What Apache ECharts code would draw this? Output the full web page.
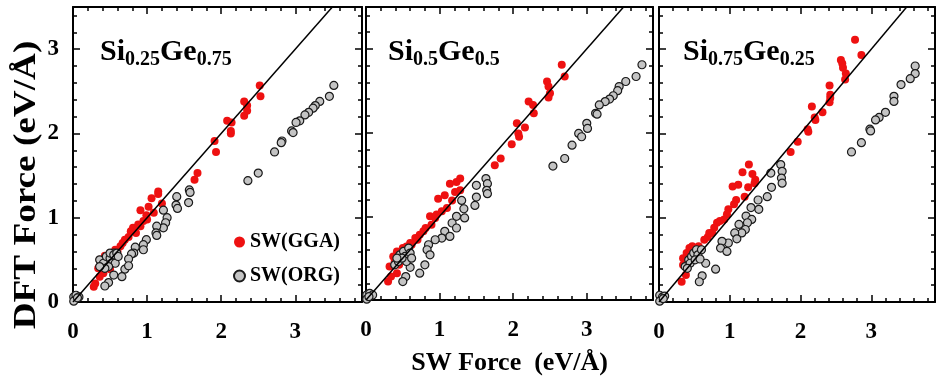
<!DOCTYPE html>
<html>
<head>
<meta charset="UTF-8">
<title>SW vs DFT force</title>
<script src="https://cdn.jsdelivr.net/npm/echarts@6/dist/echarts.min.js"></script>
</head>
<body style="margin:0;background:#fff">
	<div id="main" style="width: 938px; height: 381px;"></div>

	<script type="text/javascript">
		var font = 'Liberation Serif';

		// panel subscripts: Si_a Ge_b
		var panelTitles = [ [ '0.25', '0.75' ], [ '0.5', '0.5' ], [ '0.75', '0.25' ] ];
		var xTickLabels = [ 0, 1, 2, 3 ];
		var yTickLabels = [ 0, 1, 2, 3 ];

		// [SW force, DFT force] for Si0.25Ge0.75
		var gga1 = [ [2.52,2.57],[2.53,2.44],[2.31,2.38],[2.35,2.33],[2.35,2.27],[2.31,2.21],[2.08,2.15],[2.14,2.13],
			[2.13,2.03],[2.13,2.00],[1.91,1.91],[1.93,1.78],[1.68,1.53],[1.64,1.45],[1.15,1.31],[1.15,1.28],[1.06,1.23],
			[1.20,1.17],[0.91,1.09],[1.02,1.13],[1.09,1.06],[0.99,1.03],[0.95,0.96],[0.91,0.90],[0.81,0.88],[0.85,0.82],
			[0.75,0.77],[0.70,0.74],[0.64,0.66],[0.57,0.62],[0.50,0.58],[0.43,0.55],[0.36,0.50],[0.38,0.46],[0.34,0.40],
			[0.45,0.43],[0.41,0.34],[0.36,0.30],[0.30,0.22],[0.28,0.18],[0.50,0.39],[0.67,0.70],[0.78,0.84],[0.60,0.60],
			[0.53,0.52],[0.47,0.48],[0.40,0.42],[0.88,0.92],[1.00,0.98] ];
		var org1 = [ [3.52,2.57],[3.46,2.44],[3.33,2.38],[3.27,2.33],[3.24,2.30],[3.18,2.25],[3.13,2.22],[3.06,2.15],
			[3.01,2.13],[2.95,2.03],[2.97,2.01],[2.82,1.91],[2.81,1.89],[2.72,1.78],[2.50,1.53],[2.36,1.44],[1.57,1.33],
			[1.58,1.30],[1.56,1.18],[1.40,1.25],[1.39,1.15],[1.41,1.11],[1.22,1.09],[1.27,1.00],[1.25,0.94],[1.22,0.88],
			[1.13,0.90],[1.12,0.82],[1.13,0.79],[0.99,0.74],[0.95,0.68],[0.95,0.62],[0.84,0.65],[0.82,0.58],[0.79,0.57],
			[0.75,0.51],[0.70,0.39],[0.75,0.43],[0.66,0.30],[0.55,0.32],[0.48,0.23],[0.43,0.19],[0.57,0.54],[0.55,0.58],
			[0.36,0.50],[0.41,0.46],[0.45,0.54],[0.50,0.52],[0.52,0.46],[0.57,0.46],[0.48,0.42],[0.43,0.40],[0.50,0.58],
			[0.55,0.56],[0.59,0.58],[0.61,0.54],[0.36,0.42],
			[0.01,0.06],[0.04,0.08],[0.08,0.06],[0.01,0.01],[0.06,0.05] ];

		// Si0.5Ge0.5
		var gga2 = [ [2.66,2.81],[2.70,2.67],[2.46,2.61],[2.48,2.55],[2.50,2.47],[2.48,2.42],[2.21,2.37],[2.27,2.33],
			[2.28,2.23],[2.05,2.11],[2.16,2.06],[2.07,1.99],[2.08,1.95],[1.98,1.86],[1.83,1.69],[1.75,1.61],[1.28,1.45],
			[1.23,1.41],[1.14,1.39],[1.21,1.29],[1.28,1.31],[1.07,1.25],[0.98,1.21],[1.17,1.19],[1.10,1.10],[1.03,1.06],
			[0.87,1.00],[0.94,0.98],[0.89,0.90],[0.78,0.82],[0.73,0.78],[0.67,0.74],[0.60,0.68],[0.55,0.64],[0.50,0.62],
			[0.42,0.58],[0.37,0.52],[0.39,0.46],[0.32,0.40],[0.45,0.42],[0.42,0.32],[0.30,0.22],[0.34,0.28],[0.62,0.66],
			[0.70,0.72],[0.81,0.86],[0.96,1.02],[0.47,0.50],[0.53,0.56] ];
		var org2 = [ [3.75,2.81],[3.67,2.67],[3.53,2.61],[3.44,2.55],[3.42,2.50],[3.36,2.44],[3.31,2.40],[3.25,2.37],
			[3.17,2.33],[3.12,2.23],[3.14,2.22],[3.00,2.11],[3.01,2.05],[2.89,1.99],[2.93,1.95],[2.80,1.85],[2.70,1.69],
			[2.54,1.60],[1.63,1.45],[1.65,1.39],[1.64,1.31],[1.65,1.27],[1.50,1.37],[1.50,1.23],[1.48,1.13],[1.30,1.19],
			[1.33,1.09],[1.23,1.00],[1.34,0.98],[1.17,0.92],[1.23,0.86],[1.07,0.82],[1.14,0.76],[1.03,0.74],[0.94,0.72],
			[0.85,0.66],[0.83,0.60],[0.87,0.54],[0.80,0.42],[0.73,0.32],[0.54,0.28],[0.50,0.22],[0.60,0.39],
			[0.39,0.42],[0.44,0.46],[0.46,0.54],[0.51,0.58],[0.53,0.52],[0.58,0.62],[0.60,0.56],[0.55,0.46],[0.49,0.50],
			[0.62,0.50],[0.42,0.50],
			[0.01,0.06],[0.05,0.08],[0.09,0.06],[0.01,0.01],[0.04,0.04] ];

		// Si0.75Ge0.25
		var gga3 = [ [2.77,3.11],[2.86,2.93],[2.57,2.87],[2.59,2.83],[2.60,2.78],[2.64,2.71],[2.63,2.64],[2.41,2.57],
			[2.42,2.46],[2.42,2.42],[2.41,2.37],[2.16,2.32],[2.20,2.19],[2.21,2.16],[2.31,2.25],[2.10,2.05],[2.11,2.02],
			[1.96,1.90],[1.86,1.78],[1.27,1.63],[1.18,1.54],[1.32,1.52],[1.12,1.39],[1.04,1.37],[1.21,1.25],[1.36,1.45],
			[1.35,1.41],[1.26,1.36],[1.09,1.21],[1.06,1.16],[0.98,1.10],[0.96,1.04],[0.92,0.98],[0.82,0.94],[0.78,0.88],
			[0.75,0.82],[0.69,0.77],[0.64,0.74],[0.56,0.66],[0.47,0.66],[0.43,0.64],[0.39,0.58],[0.34,0.52],[0.34,0.44],
			[0.32,0.24],[0.38,0.32],[0.52,0.58],[0.59,0.62],[0.71,0.82],[0.86,0.96],[0.45,0.60],[0.40,0.50] ];
		var org3 = [ [3.62,2.80],[3.62,2.71],[3.55,2.65],[3.42,2.58],[3.32,2.44],[3.32,2.38],[3.20,2.25],[3.11,2.19],
			[3.06,2.16],[2.98,2.05],[2.99,2.03],[2.86,1.89],[2.72,1.78],[1.72,1.63],[1.74,1.55],[1.73,1.47],[1.74,1.41],
			[1.58,1.53],[1.59,1.36],[1.53,1.25],[1.40,1.21],[1.41,1.10],[1.30,1.12],[1.23,1.02],[1.31,0.98],[1.25,0.94],
			[1.22,0.86],[1.13,0.92],[1.17,0.82],[1.07,0.82],[1.10,0.75],[0.98,0.70],[0.89,0.72],[0.87,0.64],[0.96,0.60],
			[0.80,0.39],[0.66,0.46],[0.61,0.31],[0.57,0.24],
			[0.37,0.42],[0.42,0.50],[0.46,0.54],[0.49,0.58],[0.53,0.62],[0.55,0.56],[0.60,0.62],[0.44,0.46],[0.51,0.50],
			[0.40,0.40],[0.58,0.51],
			[0.01,0.08],[0.05,0.06],[0.08,0.07],[0.01,0.01],[0.06,0.04] ];

		var ggaSets = [ gga1, gga2, gga3 ];
		var orgSets = [ org1, org2, org3 ];

		var panels = [ { left: 73, width: 289, titleLeft: 100 },
				{ left: 366, width: 287, titleLeft: 388 },
				{ left: 659, width: 289, titleLeft: 683 } ];

		var XMAX = 3.9, YMAX = 3.5;

		function intLabel(v) {
			var r = Math.round(v);
			if (Math.abs(v - r) < 1e-6 && (xTickLabels.indexOf(r) >= 0)) return String(r);
			return '';
		}
		function intLabelY(v) {
			var r = Math.round(v);
			if (Math.abs(v - r) < 1e-6 && (yTickLabels.indexOf(r) >= 0)) return String(r);
			return '';
		}

		var labelFont = { fontFamily: font, fontWeight: 'bold', fontSize: 23, color: '#000' };

		function makeAxis(dim, g, pos, major, labels) {
			var ax = {
				gridIndex: g,
				type: 'value',
				position: pos,
				min: 0,
				max: dim === 'x' ? XMAX : YMAX,
				interval: major ? 1 : 0.2,
				splitLine: { show: false },
				axisLine: { show: major, onZero: false, lineStyle: { color: '#000', width: 2 } },
				axisTick: { show: true, inside: true, length: major ? 7 : 4,
					lineStyle: { color: '#000', width: 1.5 } },
				axisLabel: { show: false }
			};
			if (labels) {
				ax.axisLabel = Object.assign({ show: true, margin: dim === 'x' ? 19 : 14,
					formatter: dim === 'x' ? intLabel : intLabelY }, labelFont);
			}
			return ax;
		}

		var xAxes = [], yAxes = [], grids = [], titles = [], series = [];
		panels.forEach(function(p, g) {
			grids.push({ left: p.left, width: p.width, top: 7, height: 295 });

			var xb = makeAxis('x', g, 'bottom', true, true);
			if (g === 1) {
				xb.name = 'SW Force  (eV/\u00C5)';
				xb.nameLocation = 'middle';
				xb.nameGap = 50;
				xb.nameTextStyle = { fontFamily: font, fontWeight: 'bold', fontSize: 26, color: '#000' };
			}
			xAxes.push(xb, makeAxis('x', g, 'bottom', false, false),
				makeAxis('x', g, 'top', true, false), makeAxis('x', g, 'top', false, false));

			yAxes.push(makeAxis('y', g, 'left', true, g === 0), makeAxis('y', g, 'left', false, false),
				makeAxis('y', g, 'right', true, false), makeAxis('y', g, 'right', false, false));

			// subscripts: main token sits at top, sub token at bottom of a 33px line
			titles.push({
				text: '{a|Si}{b|' + panelTitles[g][0] + '}{a|Ge}{b|' + panelTitles[g][1] + '}',
				left: p.titleLeft,
				top: 37,
				padding: 0,
				textStyle: {
					rich: {
						a: { fontFamily: font, fontWeight: 'bold', fontSize: 30, lineHeight: 30,
							verticalAlign: 'top', color: '#000' },
						b: { fontFamily: font, fontWeight: 'bold', fontSize: 20, lineHeight: 33,
							verticalAlign: 'bottom', color: '#000' }
					}
				}
			});

			series.push({
				type: 'line',
				xAxisIndex: g * 4,
				yAxisIndex: g * 4,
				data: [ [0, 0], [4, 4] ],
				showSymbol: false,
				silent: true,
				clip: true,
				lineStyle: { color: '#000', width: 1.5 }
			});
			series.push({
				name: 'SW(GGA)',
				type: 'scatter',
				xAxisIndex: g * 4,
				yAxisIndex: g * 4,
				data: ggaSets[g],
				symbolSize: 8,
				itemStyle: { color: '#ee1111', opacity: 1 }
			});
			series.push({
				name: 'SW(ORG)',
				type: 'scatter',
				xAxisIndex: g * 4,
				yAxisIndex: g * 4,
				data: orgSets[g],
				symbolSize: 8,
				itemStyle: { color: '#c4c4c4', borderColor: '#1a1a1a', borderWidth: 1.2, opacity: 1 }
			});
		});

		var myChart = echarts.init(document.getElementById('main'));
		myChart.setOption({
			animation: false,
			title: titles,
			legend: {
				data: [ 'SW(GGA)', 'SW(ORG)' ],
				orient: 'vertical',
				left: 228,
				top: 227,
				itemWidth: 11,
				itemHeight: 11,
				itemGap: 14,
				icon: 'circle',
				textStyle: { fontFamily: font, fontWeight: 'bold', fontSize: 20, color: '#000' }
			},
			graphic: [ {
				type: 'text',
				x: 27,
				y: 185,
				rotation: Math.PI / 2,
				scaleX: 1.2,
				style: {
					text: 'DFT Force (eV/\u00C5)',
					fontFamily: font,
					fontWeight: 'bold',
					fontSize: 31,
					fill: '#000',
					align: 'center',
					verticalAlign: 'middle'
				}
			} ],
			grid: grids,
			xAxis: xAxes,
			yAxis: yAxes,
			series: series
		});
	</script>
</body>
</html>
